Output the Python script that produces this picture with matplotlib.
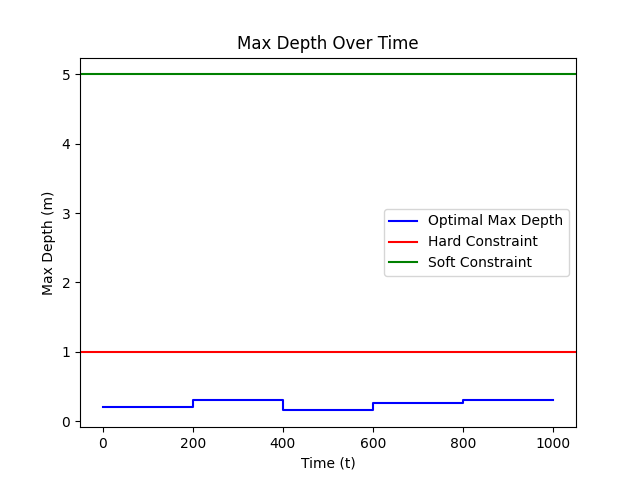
import matplotlib
matplotlib.use('Agg')
import matplotlib.pyplot as plt

# czas i glebokosc
t = [0, 200, 400, 600, 800, 1000]
max_depth = [0.21, 0.31, 0.155, 0.265, 0.31, 0.31]
hard = 1
soft = 5

plt.figure(figsize=(6.4, 4.8), dpi=100)
plt.step(t, max_depth, where='post', color='blue', label='Optimal Max Depth')
plt.axhline(hard, color='red', label='Hard Constraint')
plt.axhline(soft, color='green', label='Soft Constraint')
plt.title('Max Depth Over Time')
plt.xlabel('Time (t)')
plt.ylabel('Max Depth (m)')
plt.legend()
plt.savefig('out.png')
